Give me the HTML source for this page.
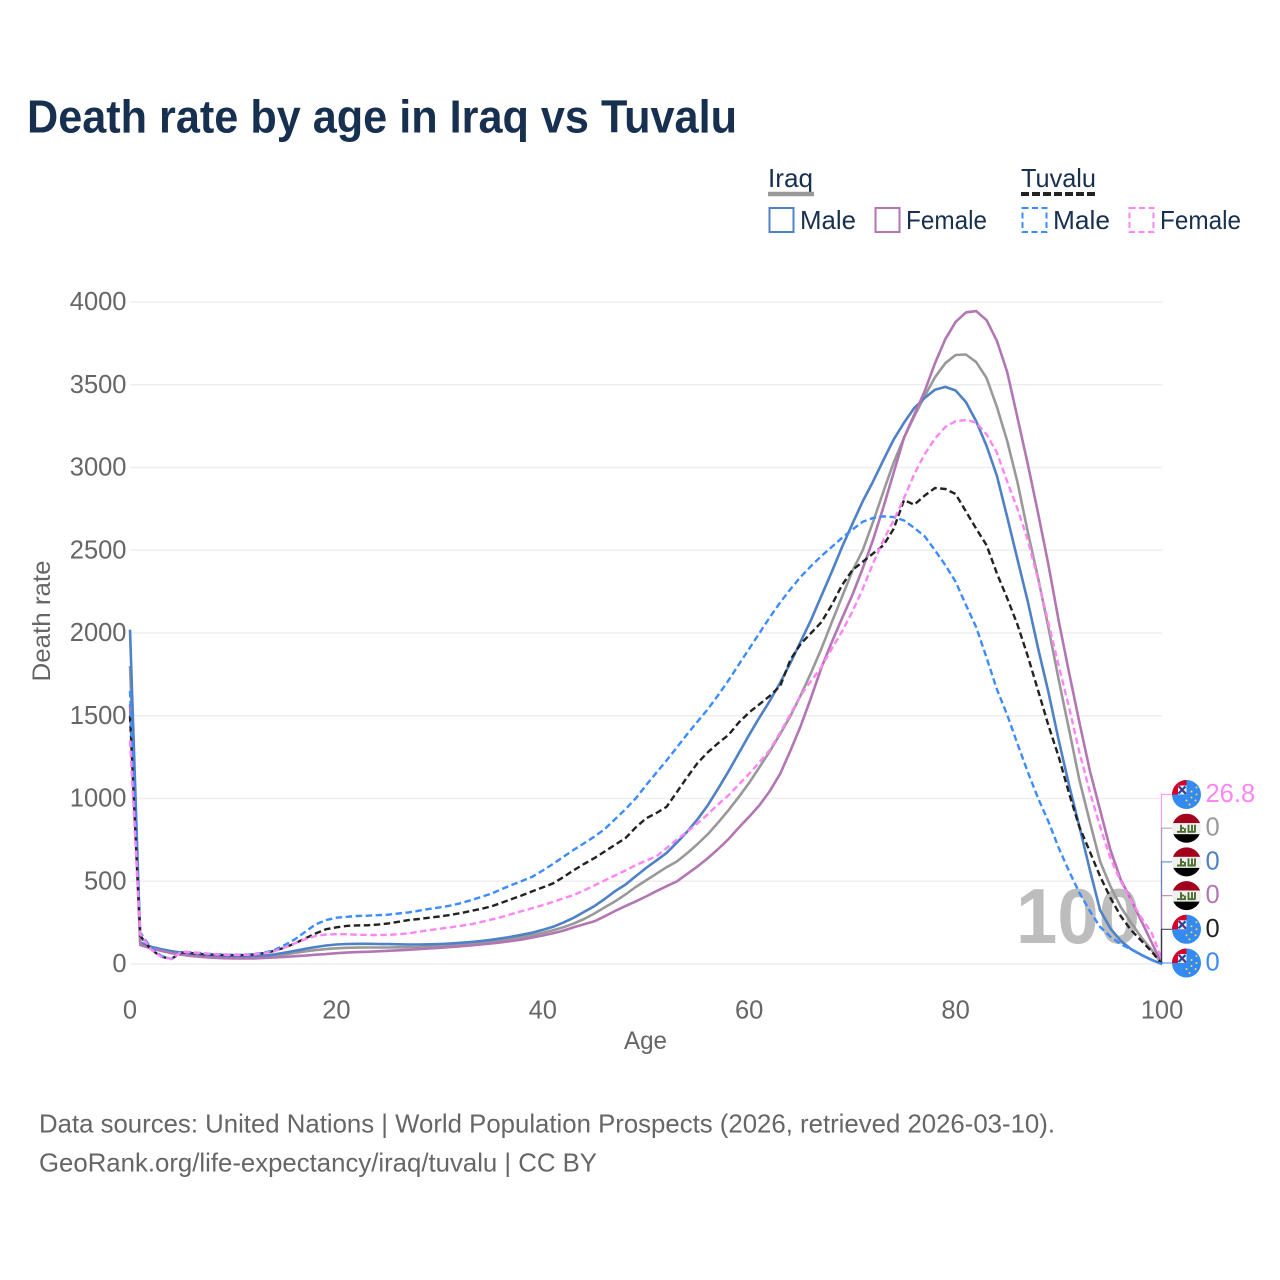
<!DOCTYPE html>
<html lang="en">
<head>
<meta charset="utf-8">
<title>Death rate by age in Iraq vs Tuvalu</title>
<style>
html,body{margin:0;padding:0;background:#fff;width:1280px;height:1280px;overflow:hidden}
svg{display:block;font-family:"Liberation Sans",sans-serif}
</style>
</head>
<body>
<svg id="chart" width="1280" height="1280" viewBox="0 0 1280 1280" xmlns="http://www.w3.org/2000/svg">
<defs>
<clipPath id="flag-clip"><circle cx="0" cy="0" r="14.5"/></clipPath>
<g id="flag-tuvalu" clip-path="url(#flag-clip)">
<rect x="-15" y="-15" width="30" height="30" fill="#338af3"/>
<rect x="-15" y="-15" width="15" height="15" fill="#d80027"/>
<rect x="-8.5" y="-9" width="8.5" height="9" fill="#f0f0f0"/>
<path d="M-8,-8.5L-0.5,-0.5M-8,-1L-1,-8" stroke="#0052b4" stroke-width="2.2"/>
<path d="M-8,-8.5L-0.5,-0.5" stroke="#d80027" stroke-width="0.9"/>
<g fill="#ffda44"><circle cx="10" cy="-7" r="1"/><circle cx="5" cy="-3" r="1"/><circle cx="10" cy="0" r="1"/><circle cx="5" cy="3" r="1"/><circle cx="9" cy="6" r="1"/><circle cx="0" cy="6" r="1"/><circle cx="3" cy="10" r="1"/></g>
</g>
<g id="flag-iraq" clip-path="url(#flag-clip)">
<rect x="-15" y="-15" width="30" height="10" fill="#a2001d"/>
<rect x="-15" y="-5" width="30" height="11" fill="#f0f0f0"/>
<rect x="-15" y="6" width="30" height="9" fill="#000"/>
<path d="M-9.5,3.6H-1.5V0M-5.5,3.6V-3.5M-5.5,0H-2.5M1,3.6H9M2,3.6V-3.5M5.5,3.6V-3.5M8.5,3.6V-3.5" fill="none" stroke="#496e2d" stroke-width="1.9"/>
</g>
</defs>

<text x="27" y="132.5" font-size="46" font-weight="700" fill="#18304f" textLength="710" lengthAdjust="spacingAndGlyphs">Death rate by age in Iraq vs Tuvalu</text>

<g>
<text x="768" y="187" font-size="26" fill="#18304f" textLength="45" lengthAdjust="spacingAndGlyphs">Iraq</text>
<line x1="768" x2="814" y1="194" y2="194" stroke="#999" stroke-width="4.5"/>
<text x="1021" y="187" font-size="26" fill="#18304f" textLength="75" lengthAdjust="spacingAndGlyphs">Tuvalu</text>
<line x1="1021" x2="1096" y1="194" y2="194" stroke="#222" stroke-width="4" stroke-dasharray="8 3"/>
<rect x="769.5" y="208" width="24" height="24" fill="none" stroke="#4f81c7" stroke-width="2"/>
<text x="800" y="229" font-size="26" fill="#18304f" textLength="56" lengthAdjust="spacingAndGlyphs">Male</text>
<rect x="875.5" y="208" width="24" height="24" fill="none" stroke="#b276b2" stroke-width="2"/>
<text x="906" y="229" font-size="26" fill="#18304f" textLength="81" lengthAdjust="spacingAndGlyphs">Female</text>
<rect x="1022.5" y="208" width="24" height="24" fill="none" stroke="#3b8cff" stroke-width="2" stroke-dasharray="6 3.5"/>
<text x="1053" y="229" font-size="26" fill="#18304f" textLength="57" lengthAdjust="spacingAndGlyphs">Male</text>
<rect x="1129.5" y="208" width="24" height="24" fill="none" stroke="#ff85f5" stroke-width="2" stroke-dasharray="6 3.5"/>
<text x="1160" y="229" font-size="26" fill="#18304f" textLength="81" lengthAdjust="spacingAndGlyphs">Female</text>
</g>

<g id="grid"></g>
<g id="y-ticks"></g>
<g id="x-ticks"></g>

<text transform="translate(50,621) rotate(-90)" text-anchor="middle" font-size="25" fill="#666" textLength="121" lengthAdjust="spacingAndGlyphs">Death rate</text>
<text x="645.5" y="1049" text-anchor="middle" font-size="25" fill="#666" textLength="43" lengthAdjust="spacingAndGlyphs">Age</text>

<text x="1016" y="943" font-size="78" font-weight="700" fill="#bdbdbd" textLength="124" lengthAdjust="spacingAndGlyphs">100</text>

<g id="series"></g>
<g id="end-labels"></g>

<g>
<text x="39" y="1132.5" font-size="26" fill="#666" textLength="1016" lengthAdjust="spacingAndGlyphs">Data sources: United Nations | World Population Prospects (2026, retrieved 2026-03-10).</text>
<text x="39" y="1171.5" font-size="26" fill="#666" textLength="558" lengthAdjust="spacingAndGlyphs">GeoRank.org/life-expectancy/iraq/tuvalu | CC BY</text>
</g>
</svg>

<script>
const yTickValues = [0, 500, 1000, 1500, 2000, 2500, 3000, 3500, 4000];
const xTickValues = [0, 20, 40, 60, 80, 100];
const ages = Array.from({ length: 101 }, (_, i) => i);

const iraqBoth = [
1800,120,100,85,72,62,55,48,43,40,
38,38,40,44,50,58,67,76,84,90,
95,98,99,100,100,100,101,102,103,105,
108,112,116,121,127,134,142,151,162,174,
188,204,222,245,272,305,342,378,420,465,
505,545,585,620,670,725,785,855,930,1010,
1095,1190,1285,1390,1500,1625,1760,1905,2065,2220,
2375,2500,2670,2855,3030,3180,3310,3430,3545,3630,
3680,3683,3637,3540,3366,3160,2910,2610,2330,2030,
1715,1415,1112,860,620,470,345,250,160,85,
0];
const iraqMale = [
2020,130,105,90,78,68,60,53,48,45,
43,43,45,50,58,68,80,92,103,112,
118,121,122,122,121,120,119,118,118,119,
121,124,128,133,139,146,155,165,177,190,
206,225,250,280,315,350,393,440,480,530,
580,625,671,735,800,875,960,1060,1165,1275,
1385,1490,1590,1700,1820,1950,2080,2225,2370,2520,
2660,2795,2915,3045,3170,3270,3360,3420,3470,3487,
3465,3396,3280,3130,2950,2700,2445,2190,1905,1640,
1350,1080,830,570,325,215,140,90,55,25,
0];
const iraqFemale = [
1570,115,95,80,66,56,48,42,38,35,
34,33,34,36,39,43,47,51,56,60,
65,69,72,74,77,80,83,86,90,94,
98,102,107,112,118,124,131,139,148,160,
172,186,202,222,240,258,288,320,350,378,
408,440,470,500,545,590,640,695,755,825,
890,960,1045,1150,1290,1440,1610,1790,1945,2090,
2230,2390,2562,2760,2970,3180,3320,3460,3630,3775,
3880,3937,3945,3890,3765,3577,3300,3020,2720,2410,
2070,1760,1460,1170,930,690,510,390,260,130,
0];
const tuvaluBoth = [
1500,170,90,45,30,70,65,60,57,55,
54,54,58,66,80,100,125,155,185,210,
222,230,233,234,238,245,255,265,272,280,
287,296,307,320,333,348,370,393,415,440,
463,487,525,567,605,640,680,720,760,825,
880,912,950,1040,1130,1215,1280,1335,1385,1460,
1520,1570,1620,1680,1840,1935,2000,2065,2170,2290,
2380,2430,2480,2530,2630,2803,2775,2830,2876,2870,
2840,2735,2630,2530,2360,2210,2050,1860,1650,1440,
1250,1030,828,680,530,400,290,205,140,75,
0];
const tuvaluMale = [
1650,190,100,50,30,75,70,65,60,58,
56,56,60,68,85,115,150,195,240,265,
280,285,290,292,295,298,305,312,322,333,
342,352,367,385,405,425,452,478,502,528,
565,605,648,690,730,770,815,875,935,1000,
1080,1155,1230,1310,1390,1465,1540,1625,1715,1810,
1905,2000,2095,2185,2265,2340,2405,2465,2520,2575,
2625,2672,2695,2705,2700,2680,2635,2585,2500,2410,
2310,2170,2035,1850,1660,1505,1330,1160,1000,860,
700,560,430,320,224,165,120,88,55,25,
0];
const tuvaluFemale = [
1350,180,90,45,30,75,70,65,60,57,
55,55,58,65,78,100,125,150,170,178,
180,180,177,175,175,176,180,185,195,205,
213,221,230,240,253,268,284,302,320,338,
356,376,397,417,445,475,505,535,565,597,
625,650,700,752,800,850,905,965,1020,1085,
1150,1220,1293,1400,1510,1625,1710,1795,1905,2010,
2130,2265,2420,2562,2680,2815,2960,3080,3175,3245,
3280,3287,3272,3200,3090,2915,2750,2560,2320,2060,
1800,1550,1280,1040,830,640,500,385,280,187,
26.8];

const endLabelText = ['26.8', '0', '0', '0', '0', '0'];

const NS = 'http://www.w3.org/2000/svg';
const xScale = age => 130 + age * 10.32;
const yScale = v => 964 - v * 0.1655;

const gridG = document.getElementById('grid');
const yTicksG = document.getElementById('y-ticks');
yTickValues.forEach(v => {
  const line = document.createElementNS(NS, 'line');
  
  
  line.setAttribute('x1', 130);
  line.setAttribute('x2', 1162);
  line.setAttribute('y1', yScale(v));
  line.setAttribute('y2', yScale(v));
  line.setAttribute('stroke', '#eeeeee');
  line.setAttribute('stroke-width', 1.5);
  gridG.appendChild(line);
  const t = document.createElementNS(NS, 'text');
  
  
  t.setAttribute('x', 126.5);
  t.setAttribute('y', yScale(v) + 8);
  t.setAttribute('text-anchor', 'end');
  t.setAttribute('font-size', 25.5);
  t.setAttribute('fill', '#666');
  t.textContent = String(v);
  yTicksG.appendChild(t);
});

const xTicksG = document.getElementById('x-ticks');
xTickValues.forEach(v => {
  const t = document.createElementNS(NS, 'text');
  
  
  t.setAttribute('x', xScale(v));
  t.setAttribute('y', 1018.5);
  t.setAttribute('text-anchor', 'middle');
  t.setAttribute('font-size', 25.5);
  t.setAttribute('fill', '#666');
  t.textContent = String(v);
  xTicksG.appendChild(t);
});

const seriesList = [
  { key: 'iraq-both', values: iraqBoth, color: '#999999', dash: '' },
  { key: 'iraq-male', values: iraqMale, color: '#4f81c7', dash: '' },
  { key: 'iraq-female', values: iraqFemale, color: '#b276b2', dash: '' },
  { key: 'tuvalu-both', values: tuvaluBoth, color: '#222222', dash: '6.5 3.5' },
  { key: 'tuvalu-male', values: tuvaluMale, color: '#3b8cff', dash: '6.5 3.5' },
  { key: 'tuvalu-female', values: tuvaluFemale, color: '#ff85f5', dash: '6.5 3.5' }
];
const seriesG = document.getElementById('series');
seriesList.forEach(s => {
  const p = document.createElementNS(NS, 'path');
  
  
  p.setAttribute('data-series', s.key);
  p.setAttribute('d', s.values.map((v, i) => (i ? 'L' : 'M') + xScale(ages[i]).toFixed(1) + ',' + yScale(v).toFixed(1)).join(''));
  p.setAttribute('fill', 'none');
  p.setAttribute('stroke', s.color);
  p.setAttribute('stroke-width', s.dash ? 2.4 : 2.6);
  p.setAttribute('stroke-linejoin', 'round');
  if (s.dash) p.setAttribute('stroke-dasharray', s.dash);
  seriesG.appendChild(p);
});

const endOrder = [
  { color: '#ff85f5', flag: 'flag-tuvalu', values: tuvaluFemale, slot: 0 },
  { color: '#999999', flag: 'flag-iraq', values: iraqBoth, slot: 1 },
  { color: '#4f81c7', flag: 'flag-iraq', values: iraqMale, slot: 2 },
  { color: '#b276b2', flag: 'flag-iraq', values: iraqFemale, slot: 3 },
  { color: '#222222', flag: 'flag-tuvalu', values: tuvaluBoth, slot: 4 },
  { color: '#3b8cff', flag: 'flag-tuvalu', values: tuvaluMale, slot: 5 }
];
const endG = document.getElementById('end-labels');
endOrder.forEach(e => {
  const ly = 794.5 + e.slot * 33.7;
  const lastY = yScale(e.values[e.values.length - 1]);
  const conn = document.createElementNS(NS, 'path');
  
  
  conn.setAttribute('d', 'M1161.5,' + lastY.toFixed(1) + 'V' + ly.toFixed(1) + 'H1172');
  conn.setAttribute('fill', 'none');
  conn.setAttribute('stroke', e.color);
  conn.setAttribute('stroke-width', 1.2);
  conn.setAttribute('stroke-opacity', 0.8);
  endG.appendChild(conn);
  const flag = document.createElementNS(NS, 'use');
  
  
  flag.setAttribute('href', '#' + e.flag);
  flag.setAttribute('transform', 'translate(1186.5,' + ly.toFixed(1) + ')');
  endG.appendChild(flag);
  const t = document.createElementNS(NS, 'text');
  
  
  t.setAttribute('x', 1205.5);
  t.setAttribute('y', (ly + 7.5).toFixed(1));
  t.setAttribute('font-size', 25.5);
  t.setAttribute('fill', e.color);
  t.textContent = endLabelText[e.slot];
  endG.appendChild(t);
});
</script>
</body>
</html>
